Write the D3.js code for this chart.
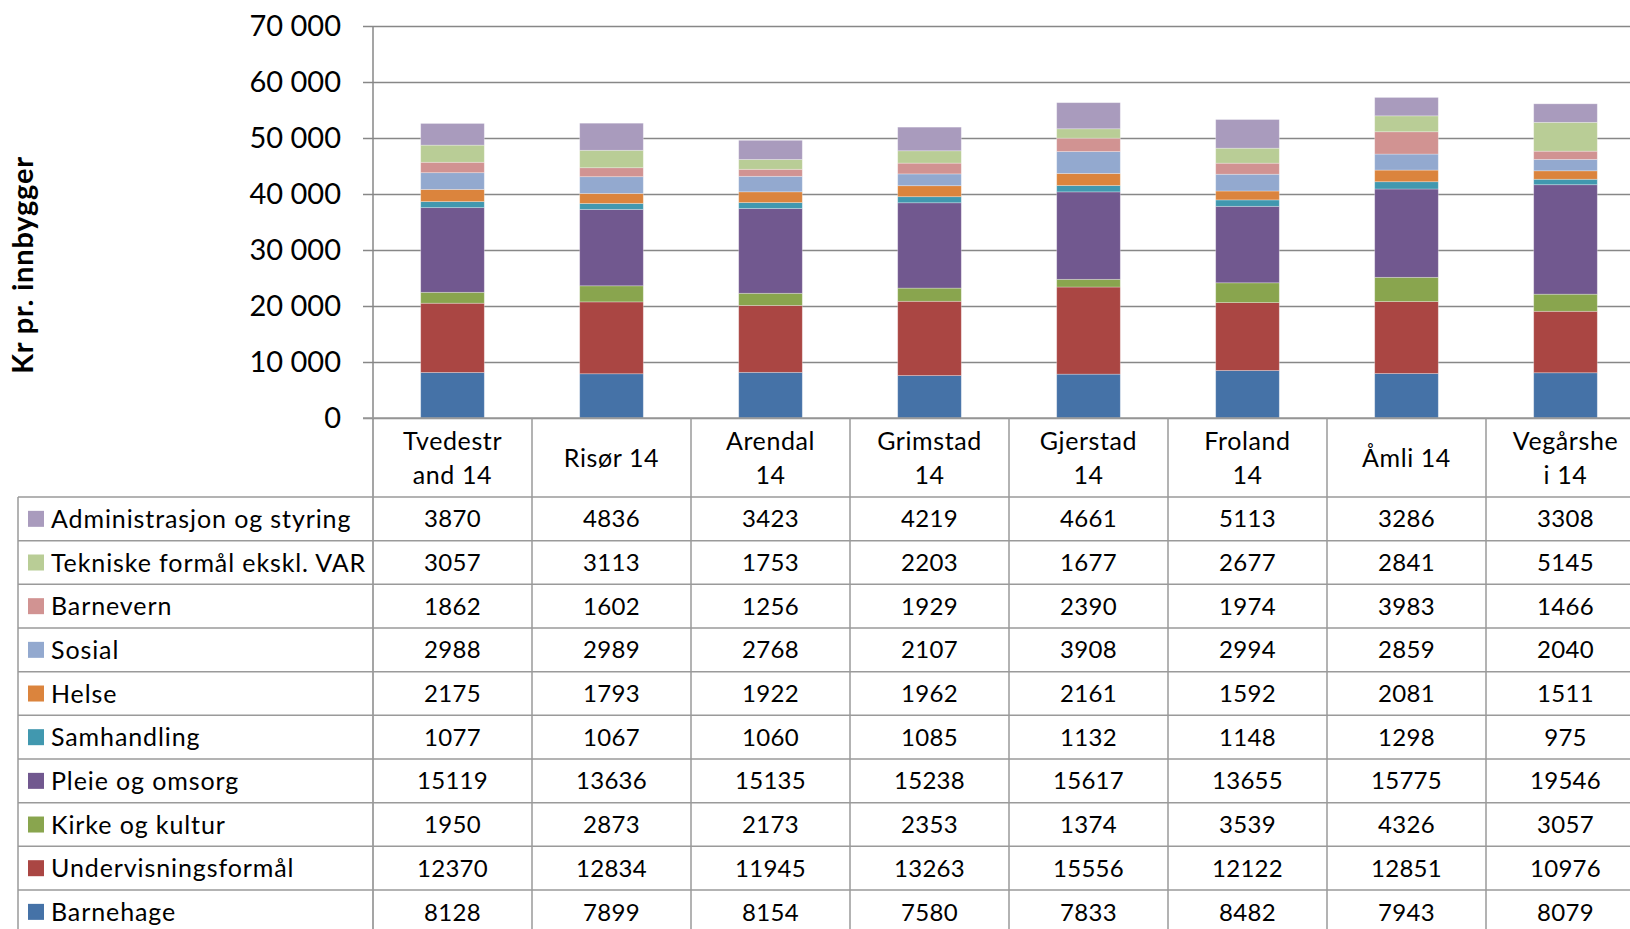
<!DOCTYPE html>
<html>
<head>
<meta charset="utf-8">
<script src="https://cdn.jsdelivr.net/npm/d3@7"></script>
<style>
  html, body { margin: 0; padding: 0; background: #fff; }
  svg { display: block; }
  text { font-family: Lato, "Open Sans", sans-serif; fill: #000; }
</style>
</head>
<body>
<svg id="chart" width="1630" height="929"></svg>
<script>
// Municipalities (2014), as column headers and as they wrap in the table header
const categories = ["Tvedestrand 14", "Risør 14", "Arendal 14", "Grimstad 14",
                    "Gjerstad 14", "Froland 14", "Åmli 14", "Vegårshei 14"];
const headerLines = [["Tvedestr", "and 14"], ["Risør 14"], ["Arendal", "14"], ["Grimstad", "14"],
                     ["Gjerstad", "14"], ["Froland", "14"], ["Åmli 14"], ["Vegårshe", "i 14"]];

// Spending categories, bottom of the stack first
const seriesNames = ["Barnehage", "Undervisningsformål", "Kirke og kultur", "Pleie og omsorg",
                     "Samhandling", "Helse", "Sosial", "Barnevern",
                     "Tekniske formål ekskl. VAR", "Administrasjon og styring"];
const seriesColors = ["#4572a7", "#aa4643", "#89a54e", "#71588f",
                      "#4198af", "#db843d", "#93a9cf", "#d19392",
                      "#b9cd96", "#a99bbd"];

// Kr per inhabitant, one array per category (same order as categories)
const barnehage      = [8128, 7899, 8154, 7580, 7833, 8482, 7943, 8079];
const undervisning   = [12370, 12834, 11945, 13263, 15556, 12122, 12851, 10976];
const kirkeKultur    = [1950, 2873, 2173, 2353, 1374, 3539, 4326, 3057];
const pleieOmsorg    = [15119, 13636, 15135, 15238, 15617, 13655, 15775, 19546];
const samhandling    = [1077, 1067, 1060, 1085, 1132, 1148, 1298, 975];
const helse          = [2175, 1793, 1922, 1962, 2161, 1592, 2081, 1511];
const sosial         = [2988, 2989, 2768, 2107, 3908, 2994, 2859, 2040];
const barnevern      = [1862, 1602, 1256, 1929, 2390, 1974, 3983, 1466];
const tekniske       = [3057, 3113, 1753, 2203, 1677, 2677, 2841, 5145];
const administrasjon = [3870, 4836, 3423, 4219, 4661, 5113, 3286, 3308];

const seriesValues = [barnehage, undervisning, kirkeKultur, pleieOmsorg, samhandling,
                      helse, sosial, barnevern, tekniske, administrasjon];

const yTicks = [0, 10000, 20000, 30000, 40000, 50000, 60000, 70000];
const yTitle = "Kr pr. innbygger";

// ---- layout ----
const W = 1630, H = 929;
const plotLeft = 373, plotTop = 26, plotBottom = 418;
const colStep = 159;
const headerBottom = 497;
const rowH = 43.67;
const legendLeft = 18;
const gridColor = "#878787";
const tableColor = "#9a9a9a";

const svg = d3.select("#chart");

// rows: one object per category with every series value
const rows = categories.map((c, i) => {
  const r = { category: c };
  seriesNames.forEach((s, j) => { r[s] = seriesValues[j][i]; });
  return r;
});
const stacked = d3.stack().keys(seriesNames)(rows);

const x = d3.scaleBand()
  .domain(categories)
  .range([plotLeft, plotLeft + colStep * categories.length])
  .paddingInner(0.6)
  .paddingOuter(0.3);

const y = d3.scaleLinear().domain([0, 70000]).range([plotBottom, plotTop]);

const color = d3.scaleOrdinal().domain(seriesNames).range(seriesColors);

// gridlines and ticks (space as thousands separator)
const yAxis = d3.axisLeft(y)
  .tickValues(yTicks)
  .tickSize(-(W - plotLeft))
  .tickFormat(d => d3.format(",")(d).replace(/,/g, " "));

const gAxis = svg.append("g").attr("transform", `translate(${plotLeft},0)`).call(yAxis);
gAxis.select(".domain").remove();
gAxis.selectAll(".tick line")
  .attr("x1", -10)
  .attr("stroke", gridColor)
  .attr("stroke-width", 1.5);
gAxis.selectAll(".tick text")
  .attr("font-size", 29)
  .attr("font-family", "Lato, sans-serif")
  .attr("fill", "#000")
  .attr("x", -32)
  .attr("dy", "0.34em");

// y axis line
svg.append("line")
  .attr("x1", plotLeft).attr("x2", plotLeft)
  .attr("y1", plotTop).attr("y2", H)
  .attr("stroke", gridColor).attr("stroke-width", 1.5);

// y axis title
svg.append("text")
  .attr("transform", `translate(33,265) rotate(-90)`)
  .attr("text-anchor", "middle")
  .attr("font-size", 29)
  .attr("font-weight", "bold")
  .attr("letter-spacing", 0.8)
  .text(yTitle);

// stacked bars
svg.append("g")
  .selectAll("g")
  .data(stacked)
  .join("g")
  .attr("fill", d => color(d.key))
  .selectAll("rect")
  .data(d => d)
  .join("rect")
  .attr("x", d => x(d.data.category))
  .attr("width", x.bandwidth())
  .attr("y", d => y(d[1]))
  .attr("height", d => y(d[0]) - y(d[1]))
  .attr("stroke", "#ffffff")
  .attr("stroke-opacity", 0.35)
  .attr("stroke-width", 0.8);

// ---- data table ----
const tableRows = seriesNames.slice().reverse(); // top row is the top of the stack
const rowY = d3.scaleBand()
  .domain(tableRows)
  .range([headerBottom, headerBottom + rowH * tableRows.length]);

const colX = d3.scaleBand()
  .domain(categories)
  .range([plotLeft, plotLeft + colStep * categories.length]);

const table = svg.append("g");

// horizontal rules
table.append("line")
  .attr("x1", plotLeft - 10).attr("x2", W)
  .attr("y1", plotBottom).attr("y2", plotBottom)
  .attr("stroke", tableColor).attr("stroke-width", 1.5);
table.selectAll("line.hrow")
  .data(tableRows)
  .join("line")
  .attr("class", "hrow")
  .attr("x1", legendLeft).attr("x2", W)
  .attr("y1", d => rowY(d)).attr("y2", d => rowY(d))
  .attr("stroke", tableColor).attr("stroke-width", 1.5);

// vertical rules
table.append("line")
  .attr("x1", legendLeft).attr("x2", legendLeft)
  .attr("y1", headerBottom).attr("y2", H)
  .attr("stroke", tableColor).attr("stroke-width", 1.5);
table.selectAll("line.vcol")
  .data(categories.slice(1))
  .join("line")
  .attr("class", "vcol")
  .attr("x1", d => colX(d)).attr("x2", d => colX(d))
  .attr("y1", plotBottom).attr("y2", H)
  .attr("stroke", tableColor).attr("stroke-width", 1.5);

// header labels
const headerMid = (plotBottom + headerBottom) / 2;
const lineGap = 34;
categories.forEach((c, i) => {
  const lines = headerLines[i];
  const cx = colX(c) + colX.bandwidth() / 2;
  const t = table.append("text")
    .attr("text-anchor", "middle")
    .attr("font-size", 25)
    .attr("letter-spacing", 0.6);
  lines.forEach((ln, k) => {
    t.append("tspan")
      .attr("x", cx)
      .attr("y", headerMid + (k - (lines.length - 1) / 2) * lineGap)
      .attr("dy", "0.36em")
      .text(ln);
  });
});

// legend column
const legendRows = table.selectAll("g.lrow")
  .data(tableRows)
  .join("g")
  .attr("class", "lrow")
  .attr("transform", d => `translate(0,${rowY(d) + rowY.bandwidth() / 2})`);
legendRows.append("rect")
  .attr("x", 28).attr("y", -8)
  .attr("width", 16).attr("height", 16)
  .attr("fill", d => color(d));
legendRows.append("text")
  .attr("x", 51)
  .attr("dy", "0.36em")
  .attr("font-size", 25)
  .attr("letter-spacing", 0.9)
  .text(d => d);

// value cells
tableRows.forEach(s => {
  const vals = seriesValues[seriesNames.indexOf(s)];
  table.selectAll(null)
    .data(vals.map((v, i) => ({ v, c: categories[i] })))
    .join("text")
    .attr("x", d => colX(d.c) + colX.bandwidth() / 2)
    .attr("y", rowY(s) + rowY.bandwidth() / 2)
    .attr("dy", "0.36em")
    .attr("text-anchor", "middle")
    .attr("font-size", 24)
    .attr("letter-spacing", 0.3)
    .text(d => d.v);
});
</script>
</body>
</html>
